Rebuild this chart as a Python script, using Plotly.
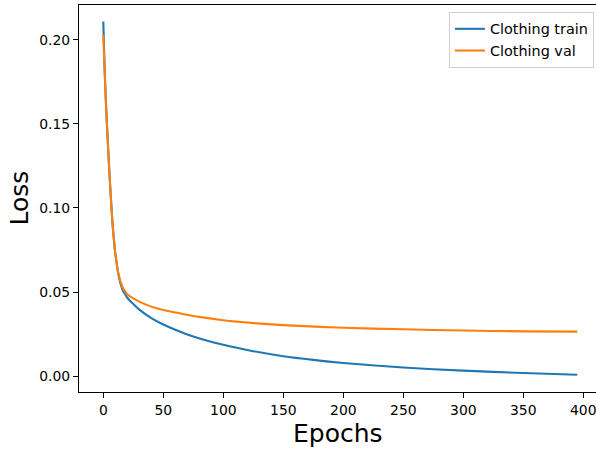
import plotly.graph_objects as go

# Data
train_epochs = [0, 1, 2, 3, 4, 5, 6, 7, 8, 9, 10, 11, 12, 13, 14, 16, 18, 20, 25, 30,
                40, 50, 60, 75, 100, 125, 150, 175, 200, 250, 300, 350, 395]
train_loss = [0.211, 0.186, 0.166, 0.150, 0.136, 0.122, 0.110, 0.098, 0.088, 0.080,
              0.073, 0.068, 0.063, 0.059, 0.056, 0.0515, 0.0488, 0.0466, 0.0428, 0.0395,
              0.0345, 0.0307, 0.0276, 0.0236, 0.0186, 0.0148, 0.0118, 0.0096, 0.0078,
              0.0051, 0.0032, 0.0018, 0.0008]

val_epochs = [0, 1, 2, 3, 4, 5, 6, 7, 8, 9, 10, 11, 12, 13, 14, 16, 18, 20, 25, 30,
              40, 50, 64, 80, 100, 125, 150, 200, 250, 300, 350, 395]
val_loss = [0.203, 0.183, 0.166, 0.150, 0.136, 0.122, 0.110, 0.098, 0.088, 0.080,
            0.073, 0.068, 0.063, 0.060, 0.057, 0.053, 0.0505, 0.0487, 0.0462, 0.0443,
            0.0413, 0.0393, 0.0373, 0.0352, 0.0332, 0.0315, 0.0303, 0.0287, 0.0278,
            0.0271, 0.0266, 0.0264]

x_ticks = [0, 50, 100, 150, 200, 250, 300, 350, 400]
y_ticks = [0.00, 0.05, 0.10, 0.15, 0.20]

FONT = "DejaVu Sans"

fig = go.Figure()
fig.add_trace(go.Scatter(x=train_epochs, y=train_loss, mode="lines", name="Clothing train",
                         line=dict(color="#1f77b4", width=2.1, shape="spline", smoothing=0.8)))
fig.add_trace(go.Scatter(x=val_epochs, y=val_loss, mode="lines", name="Clothing val",
                         line=dict(color="#ff7f0e", width=2.1, shape="spline", smoothing=0.8)))

axis_common = dict(showgrid=False, zeroline=False, showline=True, linecolor="black",
                   linewidth=1, ticks="outside", ticklen=5, tickwidth=1, tickcolor="black",
                   ticklabeloverflow="allow",
                   tickfont=dict(family=FONT, size=13.9, color="black"))

fig.update_layout(
    width=596, height=451,
    margin=dict(l=79, r=0, t=5, b=59),
    paper_bgcolor="white", plot_bgcolor="white",
    font=dict(family=FONT, color="black"),
    xaxis=dict(range=[-20.25, 410.6], tickmode="array", tickvals=x_ticks,
               ticktext=[str(v) for v in x_ticks], mirror=True, **axis_common),
    yaxis=dict(range=[-0.0095, 0.2208], tickvals=y_ticks, tickformat=".2f", **axis_common),
    showlegend=True,
    legend=dict(x=0.996, y=0.982, xanchor="right", yanchor="top",
                bgcolor="rgba(255,255,255,0.8)", bordercolor="#d0d0d0", borderwidth=1,
                font=dict(family=FONT, size=14.4, color="black"), itemwidth=30,
                tracegroupgap=0),
    annotations=[
        dict(text="Epochs", x=0.5, y=-0.1085, xref="paper", yref="paper",
             xanchor="center", yanchor="middle", showarrow=False,
             font=dict(family=FONT, size=25, color="black")),
        dict(text="Loss", x=-0.116, y=0.5, xref="paper", yref="paper",
             xanchor="center", yanchor="middle", showarrow=False, textangle=-90,
             font=dict(family=FONT, size=25, color="black")),
    ],
)

fig.write_html("out.html")
